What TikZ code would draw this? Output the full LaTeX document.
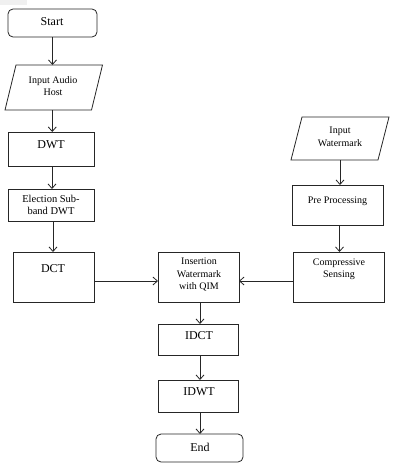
\documentclass[tikz,border=0pt]{standalone}
\usepackage{fontspec}
\setmainfont{Liberation Serif}
\usetikzlibrary{arrows.meta}
\tikzset{
  shp/.style={draw=black!85, line width=0.8pt, inner sep=0pt, outer sep=0pt},
  hid/.style={inner sep=0pt, outer sep=0pt},
  rbox/.style={shp, rounded corners=5pt},
  txt/.style={inner sep=0pt, align=center},
  big/.style={txt, font=\fontsize{12}{14}\selectfont},
  small/.style={txt, font=\fontsize{10}{12.5}\selectfont},
  arr/.style={draw=black!85, line width=0.8pt, -{Straight Barb[length=4.5pt,width=8pt]}},
  edge/.style={draw=black!85, line width=0.8pt}
}
\begin{document}
\begin{tikzpicture}[x=1pt,y=-1pt]
\useasboundingbox (0,0) rectangle (401,463);
\fill[black!6] (0,0) rectangle (27,5);
% left column
\node[rbox, minimum width=89pt, minimum height=28pt] (start) at (52.5,23) {};
\node[big] (tstart) at (52,21.5) {Start};
\node[hid, minimum width=86.5pt, minimum height=45pt] (audio) at (53.75,87.5) {};
\draw[edge] ([xshift=5.5pt]audio.north west) -- ([xshift=5.5pt]audio.north east)
  -- ([xshift=-5.5pt]audio.south east) -- ([xshift=-5.5pt]audio.south west) -- cycle;
\node[small] (taudio) at (53,86) {Input Audio\\Host};
\node[shp, minimum width=86pt, minimum height=34pt] (dwt) at (51,149) {};
\node[big] (tdwt) at (51,145) {DWT};
\node[shp, minimum width=86pt, minimum height=32pt] (elec) at (51,205) {};
\node[small, font=\fontsize{10.5}{12.5}\selectfont] (telec) at (51,205) {Election Sub-\\band DWT};
\node[shp, minimum width=81pt, minimum height=50pt] (dct) at (53.5,277) {};
\node[big] (tdct) at (53,269) {DCT};
% right column
\node[hid, minimum width=87pt, minimum height=43pt] (wm) at (340,138.5) {};
\draw[edge] ([xshift=5.5pt]wm.north west) -- ([xshift=5.5pt]wm.north east)
  -- ([xshift=-5.5pt]wm.south east) -- ([xshift=-5.5pt]wm.south west) -- cycle;
\node[small] (twm) at (340,137) {Input\\Watermark};
\node[shp, minimum width=91pt, minimum height=40pt] (pre) at (337.5,205) {};
\node[small] (tpre) at (337.5,201) {Pre Processing};
\node[shp, minimum width=91pt, minimum height=50pt] (comp) at (338.5,277) {};
\node[small] (tcomp) at (339,269.5) {Compressive\\Sensing};
% middle column
\node[shp, minimum width=81pt, minimum height=50pt] (ins) at (198.5,277) {};
\node[small] (tins) at (199,274.5) {Insertion\\Watermark\\with QIM};
\node[shp, minimum width=80pt, minimum height=31pt] (idct) at (198,339.5) {};
\node[big] (tidct) at (199,335.5) {IDCT};
\node[shp, minimum width=80pt, minimum height=32pt] (idwt) at (198,396) {};
\node[big] (tidwt) at (199,391.5) {IDWT};
\node[rbox, minimum width=87pt, minimum height=28pt] (end) at (199.5,448) {};
\node[big] (tend) at (200,447) {End};
% connectors
\draw[arr] (start.south) -- (start.south |- audio.north);
\draw[arr] ([xshift=-1.5pt]audio.south) -- ([xshift=-1.5pt]audio.south |- dwt.north);
\draw[arr] ([xshift=1pt]dwt.south) -- ([xshift=1pt]dwt.south |- elec.north);
\draw[arr] ([xshift=2pt]elec.south) -- ([xshift=2pt]elec.south |- dct.north);
\draw[arr] (wm.south) -- (wm.south |- pre.north);
\draw[arr] ([xshift=2pt]pre.south) -- ([xshift=2pt]pre.south |- comp.north);
\draw[arr] ([yshift=-4pt]dct.east) -- ([yshift=-4pt]ins.west);
\draw[arr] ([yshift=-4pt]comp.west) -- ([yshift=-4pt]ins.east);
\draw[arr] ([xshift=1.5pt]ins.south) -- ([xshift=1.5pt]ins.south |- idct.north);
\draw[arr] ([xshift=2pt]idct.south) -- ([xshift=2pt]idct.south |- idwt.north);
\draw[arr] ([xshift=2pt]idwt.south) -- ([xshift=2pt]idwt.south |- end.north);
\end{tikzpicture}
\end{document}
